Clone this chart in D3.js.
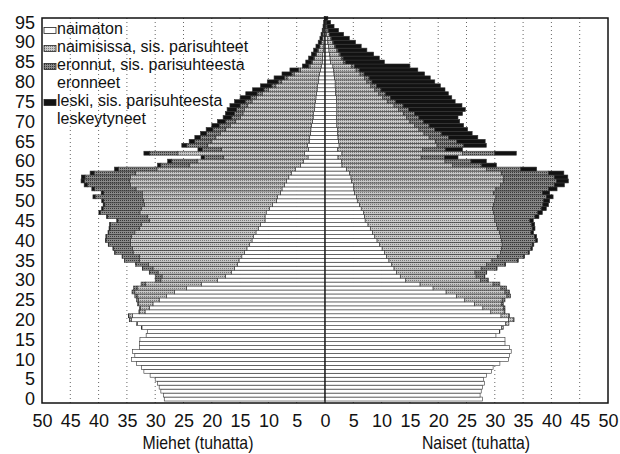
<!DOCTYPE html>
<html><head><meta charset="utf-8">
<script src="https://cdn.jsdelivr.net/npm/d3@7"></script>
<style>
body{margin:0;background:#fff}
text{font-family:"Liberation Sans",Arial,sans-serif;fill:#111}
</style>
</head><body>
<svg id="chart" width="620" height="454"></svg>
<script>
// ---- data (thousands) ----
const ages = [0,1,2,3,4,5,6,7,8,9,10,11,12,13,14,15,16,17,18,19,20,21,22,23,24,25,26,27,28,29,30,31,32,33,34,35,36,37,38,39,40,41,42,43,44,45,46,47,48,49,50,51,52,53,54,55,56,57,58,59,60,61,62,63,64,65,66,67,68,69,70,71,72,73,74,75,76,77,78,79,80,81,82,83,84,85,86,87,88,89,90,91,92,93,94,95,96];
const statuses = ["naimaton","naimisissa, sis. parisuhteet","eronnut, sis. parisuhteesta eronneet","leski, sis. parisuhteesta leskeytyneet"];
const legendLines = [["naimaton"],["naimisissa, sis. parisuhteet"],["eronnut, sis. parisuhteesta","eronneet"],["leski, sis. parisuhteesta","leskeytyneet"]];
const xTicks = [-50,-45,-40,-35,-30,-25,-20,-15,-10,-5,0,5,10,15,20,25,30,35,40,45,50];
const yTicks = [0,5,10,15,20,25,30,35,40,45,50,55,60,65,70,75,80,85,90,95];

const menSingle = [28.4,28.5,29.0,29.3,29.6,30.0,30.9,32.0,32.4,33.3,34.2,33.6,34.0,32.8,32.8,32.7,31.6,31.4,32.35,33.15,
 34.2,34.0,31.8,31.0,30.4,29.3,28.0,26.6,24.5,21.8,19.0,17.6,
 16.5,16.0,15.5,15.2,14.7,14.2,13.8,13.3,12.9,12.6,12.2,11.8,11.4,10.6,10.6,10.4,9.8,9.3,8.6,8.4,7.9,7.6,7.2,6.8,6.4,5.9,5.2,4.3,3.8,3.0,3.6,2.9,3.1,
 2.8,2.7,2.6,2.5,2.4,2.2,2.1,2.0,1.9,1.8,1.7,1.6,1.5,1.4,1.3,1.2,1.1,1.0,0.8,0.6,0.5,0.45,0.4,0.3,0.25,0.2,0.15,0.1,0.08,0.06,0.04,0.02];
const menMarried = [0,0,0,0,0,0,0,0,0,0,0,0,0,0,0,0,0,0,0.05,0.15,
 0.35,0.65,1.0,1.65,2.5,3.7,5.2,7.0,8.7,9.9,10.0,11.2,
 13.0,14.4,15.7,17.6,18.1,19.7,20.2,21.1,21.5,21.6,21.4,21.0,21.0,20.4,20.8,22.3,22.6,22.6,23.5,23.9,24.4,25.8,27.2,27.7,28.0,27.6,24.5,19.7,18.8,14.9,22.4,15.4,17.7,
 17.2,16.6,15.9,15.1,14.3,13.6,12.8,12.5,12.3,11.9,11.2,10.5,9.6,8.6,7.4,6.5,5.6,4.45,3.55,2.05,1.7,1.4,1.08,0.9,0.67,0.45,0.31,0.25,0.16,0.1,0.07,0.05];
const menDivorced = [0,0,0,0,0,0,0,0,0,0,0,0,0,0,0,0,0,0,0,0,
 0.03,0.05,0.08,0.12,0.2,0.3,0.4,0.5,0.6,0.8,1.0,1.2,
 1.5,1.8,2.2,2.6,3.0,3.2,3.4,3.8,4.3,4.4,4.6,5.2,5.5,5.6,7.0,7.0,6.8,7.0,7.0,8.3,6.8,7.3,7.6,8.0,8.0,7.3,6.8,5.0,4.5,3.4,5.0,3.4,3.6,
 3.0,2.7,2.4,2.2,2.0,1.8,1.6,1.5,1.4,1.3,1.2,1.0,0.9,0.8,0.7,0.6,0.5,0.45,0.35,0.25,0.2,0.15,0.12,0.1,0.08,0.05,0.04,0.03,0.02,0.01,0.01,0];
const menWidowed = [0,0,0,0,0,0,0,0,0,0,0,0,0,0,0,0,0,0,0,0,
 0,0,0,0,0,0,0,0,0,0,0,0,
 0.05,0.05,0.05,0.05,0.06,0.07,0.08,0.1,0.1,0.12,0.14,0.16,0.18,0.2,0.22,0.25,0.28,0.3,0.35,0.4,0.45,0.5,0.55,0.6,0.65,0.7,0.7,0.6,0.7,0.6,1.0,0.75,0.9,
 1.0,1.0,1.1,1.2,1.3,1.4,1.5,1.6,1.7,1.8,1.9,1.9,2.0,2.0,2.0,1.9,1.8,1.7,1.5,1.1,1.0,0.9,0.8,0.7,0.6,0.5,0.4,0.32,0.24,0.18,0.13,0.08];

const womenSingle = [27.8,27.4,27.6,27.8,28.2,28.0,28.5,29.4,29.7,30.9,32.4,32.6,32.9,32.6,31.8,31.8,30.2,30.85,31.2,31.9,
 32.4,31.1,29.3,27.9,26.4,24.7,23.2,21.4,19.1,16.8,14.2,13.3,
 12.6,12.2,11.8,11.3,10.9,10.5,10.1,9.6,9.2,8.8,8.4,8.0,7.6,7.1,7.0,6.8,6.4,6.1,5.7,5.6,5.2,5.1,5.0,4.7,4.6,4.3,3.8,3.0,2.9,2.3,3.0,2.2,2.5,
 2.4,2.3,2.2,2.2,2.1,2.1,2.0,2.1,2.1,2.1,2.0,2.0,1.9,1.9,1.8,1.8,1.7,1.6,1.5,1.4,1.0,0.9,0.8,0.7,0.6,0.5,0.4,0.3,0.22,0.15,0.1,0.05];
const womenMarried = [0,0,0,0,0,0,0,0,0,0,0,0,0,0,0,0,0,0.05,0.3,0.6,
 0.95,1.4,2.35,3.65,4.75,6.6,8.95,10.4,12.0,12.9,13.3,13.4,
 13.9,15.4,16.7,18.2,19.6,20.5,21.1,21.7,22.0,22.2,22.4,22.5,22.7,22.9,23.0,23.0,23.2,23.7,24.3,24.6,24.6,25.1,26.0,26.8,27.0,26.9,24.7,19.5,18.3,14.7,21.3,15.0,17.3,
 17.1,16.1,15.3,14.4,13.7,12.9,12.4,11.8,10.9,10.1,9.0,8.2,7.6,6.9,6.3,5.6,5.3,4.6,4.0,3.3,2.3,2.0,1.7,1.4,1.1,0.85,0.65,0.45,0.3,0.19,0.11,0.05];
const womenDivorced = [0,0,0,0,0,0,0,0,0,0,0,0,0,0,0,0,0,0,0,0,
 0.05,0.1,0.15,0.25,0.35,0.5,0.65,0.8,1.0,1.2,1.3,1.5,
 2.0,2.7,3.3,4.5,4.6,4.9,5.2,5.3,6.0,6.0,5.6,6.1,6.2,6.2,7.1,7.8,8.6,8.7,8.6,8.9,8.6,9.3,9.5,9.4,8.9,8.3,6.1,5.2,4.6,4.1,5.7,4.1,4.7,
 3.8,3.4,3.1,2.8,2.6,2.4,2.2,1.9,1.8,1.6,1.5,1.35,1.2,1.1,1.0,0.9,0.8,0.7,0.6,0.5,0.35,0.3,0.25,0.2,0.16,0.12,0.09,0.06,0.04,0.03,0.02,0.01];
const womenWidowed = [0,0,0,0,0,0,0,0,0,0,0,0,0,0,0,0,0,0,0,0,
 0,0,0,0,0,0,0,0,0,0,0.03,0.05,
 0.08,0.1,0.12,0.15,0.18,0.2,0.25,0.3,0.35,0.4,0.45,0.5,0.55,0.6,0.7,0.8,0.9,1.0,1.1,1.2,1.3,1.5,1.8,2.1,2.4,2.7,2.8,2.6,2.7,2.4,3.8,3.0,4.0,
 5.0,5.2,5.4,5.8,6.1,6.4,6.9,8.5,10.0,10.4,10.5,10.85,11.1,11.3,11.3,11.1,10.8,10.7,10.3,9.8,6.85,6.4,5.85,5.1,4.54,3.93,3.16,2.49,1.84,1.23,0.77,0.39];

// ---- layout ----
const svg = d3.select("#chart");
const defs = svg.append("defs");
function halftone(id, base, dot) {
  const p = defs.append("pattern").attr("id", id).attr("patternUnits", "userSpaceOnUse")
    .attr("width", 2).attr("height", 2);
  p.append("rect").attr("width", 2).attr("height", 2).attr("fill", base);
  p.append("rect").attr("width", 1).attr("height", 1).attr("fill", dot);
}
halftone("pMarried", "#c8c8c8", "#7c7c7c");
halftone("pDivorced", "#8a8a8a", "#383838");
const fills = ["#ffffff", "url(#pMarried)", "url(#pDivorced)", "#121212"];

const L = 42, R = 608, T = 18, B = 403;
const x = d3.scaleLinear().domain([-50, 50]).range([L, R]);
const y = d3.scaleLinear().domain([-1, 96.1]).range([B, T]);

// grid
svg.append("g").selectAll("line").data(xTicks.filter(d => d !== 0 && Math.abs(d) !== 50))
  .join("line")
  .attr("x1", d => x(d)).attr("x2", d => x(d))
  .attr("y1", T).attr("y2", B)
  .attr("stroke", "#666").attr("stroke-width", 1)
  .attr("stroke-dasharray", "1,3");

// bars
const menSeries = [menSingle, menMarried, menDivorced, menWidowed];
const womenSeries = [womenSingle, womenMarried, womenDivorced, womenWidowed];
const segs = [];
ages.forEach((a, i) => {
  let cm = 0, cw = 0;
  for (let k = 0; k < 4; k++) {
    const vm = menSeries[k][i], vw = womenSeries[k][i];
    if (vm > 0) segs.push({age: a, k, x0: -(cm + vm), x1: -cm});
    if (vw > 0) segs.push({age: a, k, x0: cw, x1: cw + vw});
    cm += vm; cw += vw;
  }
});
svg.append("g").selectAll("rect").data(segs).join("rect")
  .attr("x", d => x(d.x0))
  .attr("width", d => Math.max(0, x(d.x1) - x(d.x0)))
  .attr("y", d => y(d.age + 0.5))
  .attr("height", d => y(d.age - 0.5) - y(d.age + 0.5))
  .attr("fill", d => fills[d.k])
  .attr("stroke", "#333").attr("stroke-width", 0.6);

// center line
svg.append("line").attr("x1", x(0)).attr("x2", x(0)).attr("y1", T).attr("y2", B)
  .attr("stroke", "#111").attr("stroke-width", 1.2);

// frame
svg.append("rect").attr("x", L).attr("y", T).attr("width", R - L).attr("height", B - T)
  .attr("fill", "none").attr("stroke", "#111").attr("stroke-width", 1.5);

// axes
const xAxis = d3.axisBottom(x).tickValues(xTicks).tickFormat(d => Math.abs(d)).tickSize(0).tickPadding(11);
const gx = svg.append("g").attr("transform", `translate(0,${B})`).call(xAxis);
gx.select(".domain").remove();
gx.selectAll("text").style("font-size", "18px").attr("fill", "#111");

const yAxis = d3.axisLeft(y).tickValues(yTicks).tickSize(0).tickPadding(7);
const gy = svg.append("g").attr("transform", `translate(${L},0)`).call(yAxis);
gy.select(".domain").remove();
gy.selectAll("text").style("font-size", "18px").attr("fill", "#111");

// condensed text helper
function ctext(px, py, t, anchor, size, sx) {
  return svg.append("text").attr("transform", `translate(${px},${py}) scale(${sx},1)`)
    .attr("text-anchor", anchor || "start").style("font-size", size + "px").text(t);
}

// axis titles
ctext(198, 449, "Miehet (tuhatta)", "middle", 18, 0.88);
ctext(476, 449, "Naiset (tuhatta)", "middle", 18, 0.88);

// legend
let line = 0;
legendLines.forEach((lines, k) => {
  const base = 34 + 18 * line;
  svg.append("rect").attr("x", 44).attr("y", base - 6.5).attr("width", 12).attr("height", 6)
    .attr("fill", fills[k]).attr("stroke", "#222").attr("stroke-width", 0.8);
  lines.forEach((t, j) => ctext(57, base + 18 * j, t, "start", 16, 1));
  line += lines.length;
});
</script>
</body></html>
